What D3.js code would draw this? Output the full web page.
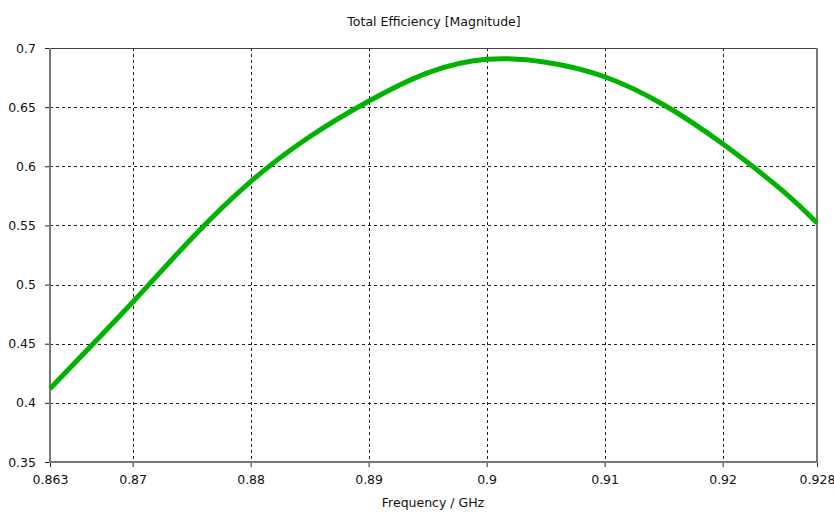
<!DOCTYPE html>
<html>
<head>
<meta charset="utf-8">
<script src="https://cdn.jsdelivr.net/npm/d3@7"></script>
<style>
  html, body { margin: 0; padding: 0; background: #fff; }
  svg { display: block; font-family: "DejaVu Sans", sans-serif; }
</style>
</head>
<body>
<svg id="chart" width="834" height="512"></svg>
<script>
// Total efficiency (magnitude) versus frequency in GHz
const freqGHz = [0.863, 0.870, 0.875, 0.880, 0.885, 0.890, 0.895, 0.900, 0.905,
                 0.910, 0.915, 0.920, 0.925, 0.928];
const efficiency = [0.412, 0.485, 0.539, 0.587, 0.625, 0.655, 0.679, 0.6905, 0.688,
                    0.6757, 0.652, 0.619, 0.580, 0.552];

const xTicks = [0.863, 0.87, 0.88, 0.89, 0.9, 0.91, 0.92, 0.928];
const yTicks = [0.35, 0.4, 0.45, 0.5, 0.55, 0.6, 0.65, 0.7];

const chartTitle = "Total Efficiency [Magnitude]";
const xTitle = "Frequency / GHz";

const svg = d3.select("#chart");
const plot = { left: 50, right: 817, top: 48, bottom: 462 };

const x = d3.scaleLinear().domain([0.863, 0.928]).range([plot.left, plot.right]);
const y = d3.scaleLinear().domain([0.35, 0.7]).range([plot.bottom, plot.top]);

// dashed grid
const grid = svg.append("g");
grid.selectAll("line.v")
  .data(xTicks.slice(1, -1))
  .join("line")
  .attr("x1", d => Math.round(x(d)) + 0.5).attr("x2", d => Math.round(x(d)) + 0.5)
  .attr("y1", plot.top).attr("y2", plot.bottom)
  .attr("stroke", "#222").attr("stroke-width", 1).attr("stroke-dasharray", "3,3");
grid.selectAll("line.h")
  .data(yTicks.slice(1, -1))
  .join("line")
  .attr("y1", d => Math.round(y(d)) + 0.5).attr("y2", d => Math.round(y(d)) + 0.5)
  .attr("x1", plot.left).attr("x2", plot.right)
  .attr("stroke", "#222").attr("stroke-width", 1).attr("stroke-dasharray", "3,3");

// axes
const xAxis = d3.axisBottom(x).tickValues(xTicks).tickFormat(d3.format("")).tickSize(5).tickPadding(8);
const yAxis = d3.axisLeft(y).tickValues(yTicks).tickFormat(d3.format("")).tickSize(5).tickPadding(9);

const gx = svg.append("g").attr("transform", `translate(0,${plot.bottom})`).call(xAxis);
const gy = svg.append("g").attr("transform", `translate(${plot.left},0)`).call(yAxis);
[gx, gy].forEach(g => {
  g.select(".domain").remove();
  g.selectAll(".tick line").attr("stroke", "#222");
  g.selectAll(".tick text").attr("fill", "#111").style("font-size", "12.5px")
    .style("font-family", "'DejaVu Sans', sans-serif");
});

// frame
svg.append("line").attr("x1", plot.left).attr("x2", plot.right).attr("y1", plot.top + 0.5).attr("y2", plot.top + 0.5)
  .attr("stroke", "#444").attr("stroke-width", 1);
svg.append("line").attr("x1", plot.left).attr("x2", plot.left).attr("y1", plot.top).attr("y2", plot.bottom + 1)
  .attr("stroke", "#777").attr("stroke-width", 2);
svg.append("line").attr("x1", plot.right).attr("x2", plot.right).attr("y1", plot.top).attr("y2", plot.bottom + 1)
  .attr("stroke", "#777").attr("stroke-width", 2);
svg.append("line").attr("x1", plot.left - 1).attr("x2", plot.right + 1).attr("y1", plot.bottom).attr("y2", plot.bottom)
  .attr("stroke", "#777").attr("stroke-width", 2);

// curve
const line = d3.line()
  .x((d, i) => x(freqGHz[i]))
  .y(d => y(d))
  .curve(d3.curveNatural);
svg.append("path")
  .datum(efficiency)
  .attr("d", line)
  .attr("fill", "none")
  .attr("stroke", "#00b300")
  .attr("stroke-width", 5)
  .attr("stroke-linejoin", "round");

// titles
svg.append("text").attr("x", 434).attr("y", 26).attr("text-anchor", "middle")
  .attr("fill", "#111").style("font-size", "12.5px").text(chartTitle);
svg.append("text").attr("x", 433).attr("y", 507).attr("text-anchor", "middle")
  .attr("fill", "#111").style("font-size", "12.5px").text(xTitle);
</script>
</body>
</html>
